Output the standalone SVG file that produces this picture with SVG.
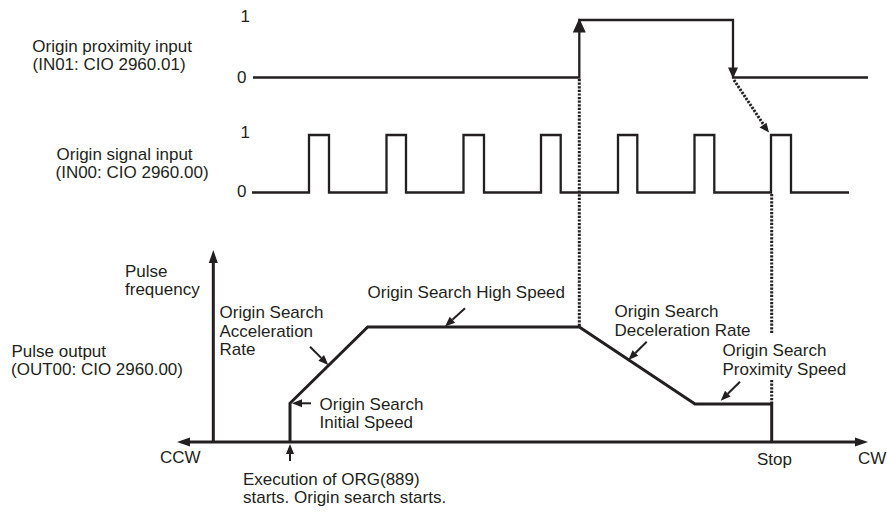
<svg xmlns="http://www.w3.org/2000/svg" width="887" height="512" viewBox="0 0 887 512">
<style>
  text { font-family: "Liberation Sans", Arial, sans-serif; font-size: 17px; fill: #231f20; }
  .ln { fill: none; stroke: #231f20; stroke-linejoin: miter; stroke-linecap: butt; }
  .thick { stroke-width: 3; }
  .sig { stroke-width: 2.3; }
  .lead { stroke-width: 2; }
  .dot { stroke-width: 3; stroke-dasharray: 2.2 1.4; }
  .fill { fill: #231f20; stroke: none; }
</style>
<defs>
  <marker id="axhead" markerUnits="userSpaceOnUse" markerWidth="14" markerHeight="12" refX="0" refY="6" orient="auto-start-reverse" overflow="visible">
    <path d="M0,1.5 L13,6 L0,10.5 z" class="fill"/>
  </marker>
  <marker id="lhead" markerUnits="userSpaceOnUse" markerWidth="11" markerHeight="10" refX="0" refY="5" orient="auto" overflow="visible">
    <path d="M0,1 L10,5 L0,9 z" class="fill"/>
  </marker>
</defs>

<g id="signal-labels">
  <text x="32.3" y="51.5">Origin proximity input</text>
  <text x="32.5" y="69.5">(IN01: CIO 2960.01)</text>
  <text x="56.5" y="160">Origin signal input</text>
  <text x="55.5" y="178">(IN00: CIO 2960.00)</text>
  <text x="240.5" y="22">1</text>
  <text x="237" y="83">0</text>
  <text x="240.5" y="138">1</text>
  <text x="237" y="197">0</text>
</g>

<g id="proximity-input">
  <polyline class="ln sig" points="253,77.5 579.3,77.5 579.3,20 733,20 733,77.5 868,77.5"/>
  <path class="fill" d="M579.3,18.3 L585.8,32.5 L572.8,32.5 z"/>
  <path class="fill" d="M733,78.5 L738,67.5 L728,67.5 z"/>
</g>

<g id="origin-signal-input">
  <polyline class="ln sig" points="252,192.5 309,192.5 309,135 329,135 329,192.5 386.5,192.5 386.5,135 406,135 406,192.5 463.5,192.5 463.5,135 484,135 484,192.5 541,192.5 541,135 560.7,135 560.7,192.5 618,192.5 618,135 637.3,135 637.3,192.5 694.5,192.5 694.5,135 714.3,135 714.3,192.5 771,192.5 771,135 791,135 791,192.5 849,192.5"/>
</g>

<g id="pulse-output">
  <text x="125" y="277">Pulse</text>
  <text x="125" y="295">frequency</text>
  <text x="11.5" y="357">Pulse output</text>
  <text x="11" y="375">(OUT00: CIO 2960.00)</text>
  <text x="160" y="463">CCW</text>
  <text x="757" y="465">Stop</text>
  <text x="858" y="463.5">CW</text>
  <line class="ln thick" x1="213.3" y1="442" x2="213.3" y2="263" marker-end="url(#axhead)"/>
  <line class="ln thick" x1="190" y1="442" x2="855" y2="442" marker-start="url(#axhead)" marker-end="url(#axhead)"/>
  <polyline class="ln thick" points="290,442 290,403.3 367.7,327 579.3,327 695,404 771.7,404 771.7,442"/>
</g>

<g id="labels">
  <text x="219.5" y="318">Origin Search</text>
  <text x="219.5" y="337">Acceleration</text>
  <text x="219.5" y="355">Rate</text>
  <text x="367.5" y="298">Origin Search High Speed</text>
  <text x="614.5" y="317">Origin Search</text>
  <text x="614.5" y="336">Deceleration Rate</text>
  <text x="722.5" y="356">Origin Search</text>
  <text x="722.5" y="375">Proximity Speed</text>
  <text x="319.5" y="409.5">Origin Search</text>
  <text x="319.5" y="427.5">Initial Speed</text>
  <text x="243" y="485">Execution of ORG(889)</text>
  <text x="243" y="503">starts. Origin search starts.</text>
</g>

<g id="connectors">
  <line class="ln dot" x1="579.3" y1="79" x2="579.3" y2="326"/>
  <line class="ln dot" x1="771.7" y1="194" x2="771.7" y2="334"/>
  <line class="ln dot" x1="771.7" y1="380" x2="771.7" y2="403"/>
  <line class="ln dot" x1="734" y1="80" x2="763.5" y2="124.5"/>
  <path class="fill" d="M769,132.5 L759.5,127.5 L766.5,122.8 z"/>
  <line class="ln lead" x1="310" y1="346.7" x2="321.2" y2="357.9" marker-end="url(#lhead)"/>
  <line class="ln lead" x1="465" y1="308.3" x2="452.4" y2="319.8" marker-end="url(#lhead)"/>
  <line class="ln lead" x1="646.7" y1="341.7" x2="635.4" y2="353" marker-end="url(#lhead)"/>
  <line class="ln lead" x1="740" y1="381.7" x2="727.8" y2="393.7" marker-end="url(#lhead)"/>
  <line class="ln lead" x1="311" y1="403.3" x2="302" y2="403.3" marker-end="url(#lhead)"/>
  <line class="ln lead" x1="290" y1="461" x2="290" y2="454" marker-end="url(#lhead)"/>
</g>
</svg>
